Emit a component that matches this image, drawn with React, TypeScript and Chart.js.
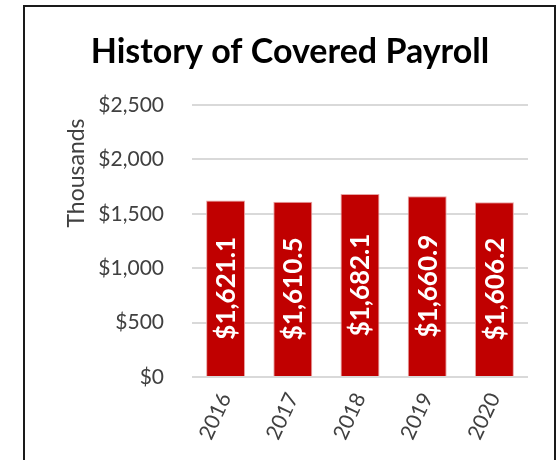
import React, { useEffect, useRef } from "react";
import { Chart, registerables } from "chart.js";

Chart.register(...registerables);

const categories = ["2016", "2017", "2018", "2019", "2020"];
const payroll = [1621.1, 1610.5, 1682.1, 1660.9, 1606.2];
const yTicks = [0, 500, 1000, 1500, 2000, 2500];
const chartTitle = "History of Covered Payroll";
const yAxisTitle = "Thousands";

const FONT = "Lato, 'Open Sans', sans-serif";

const fmtTick = (v: number) => "$" + v.toLocaleString("en-US");
const fmtLabel = (v: number) =>
  "$" + v.toLocaleString("en-US", { minimumFractionDigits: 1, maximumFractionDigits: 1 });

const overlayPlugin = {
  id: "overlay",
  afterDatasetsDraw(chart: any) {
    const { ctx, chartArea, width } = chart;
    const meta = chart.getDatasetMeta(0);
    ctx.save();
    ctx.fillStyle = "#ffffff";
    ctx.font = `bold 26px ${FONT}`;
    ctx.textAlign = "center";
    ctx.textBaseline = "middle";
    meta.data.forEach((bar: any, i: number) => {
      const { x, y, base } = bar.getProps(["x", "y", "base"], true);
      ctx.save();
      ctx.translate(x, (y + base) / 2);
      ctx.rotate(-Math.PI / 2);
      ctx.fillText(fmtLabel(payroll[i]), 0, 1);
      ctx.restore();
    });
    // chart title
    ctx.fillStyle = "#000000";
    ctx.font = `bold 34px ${FONT}`;
    ctx.textBaseline = "alphabetic";
    ctx.fillText(chartTitle, width / 2 + 10, chartArea.top - 42);
    // y axis title
    ctx.fillStyle = "#404040";
    ctx.font = `23px ${FONT}`;
    ctx.textBaseline = "middle";
    ctx.save();
    ctx.translate(chartArea.left - 115, chartArea.top + (chartArea.bottom - chartArea.top) * 0.25);
    ctx.rotate(-Math.PI / 2);
    ctx.fillText(yAxisTitle, 0, 0);
    ctx.restore();
    ctx.restore();
  },
};

export default function App() {
  const ref = useRef<HTMLCanvasElement>(null);
  useEffect(() => {
    if (!ref.current) return;
    const chart = new Chart(ref.current, {
      type: "bar",
      data: {
        labels: categories,
        datasets: [
          {
            data: payroll,
            backgroundColor: "#C00000",
            borderColor: "#e8a4a4",
            borderWidth: 1,
            barPercentage: 0.58,
            categoryPercentage: 1,
          },
        ],
      },
      options: {
        responsive: false,
        maintainAspectRatio: false,
        animation: false,
        layout: { padding: { left: 92, right: 32, top: 105, bottom: 0 } },
        plugins: {
          legend: { display: false },
          tooltip: { enabled: false },
          title: { display: false },
        },
        scales: {
          x: {
            grid: { display: false },
            border: { display: false },
            ticks: {
              color: "#404040",
              font: { family: FONT, size: 21 },
              minRotation: 65,
              maxRotation: 65,
              padding: 4,
            },
            afterFit: (s: any) => {
              s.height = 83;
            },
          },
          y: {
            min: 0,
            max: 2500,
            afterBuildTicks: (s: any) => {
              s.ticks = yTicks.map((v) => ({ value: v }));
            },
            grid: { color: "#d9d9d9", lineWidth: 2, drawTicks: false },
            border: { display: false },
            ticks: {
              color: "#404040",
              font: { family: FONT, size: 21 },
              padding: 28,
              callback: (v: any) => fmtTick(Number(v)),
            },
            afterFit: (s: any) => {
              s.width = 100;
            },
          },
        },
      },
      plugins: [overlayPlugin],
    });
    return () => chart.destroy();
  }, []);

  return (
    <div style={{ position: "fixed", left: 0, top: 0, width: 560, height: 460, background: "#fff", overflow: "hidden" }}>
      <canvas ref={ref} width={560} height={460} style={{ display: "block" }} />
      <div
        style={{
          position: "absolute",
          left: 23,
          top: 5,
          width: 533,
          height: 520,
          border: "2px solid #1a1a1a",
          boxSizing: "border-box",
          pointerEvents: "none",
        }}
      />
    </div>
  );
}
